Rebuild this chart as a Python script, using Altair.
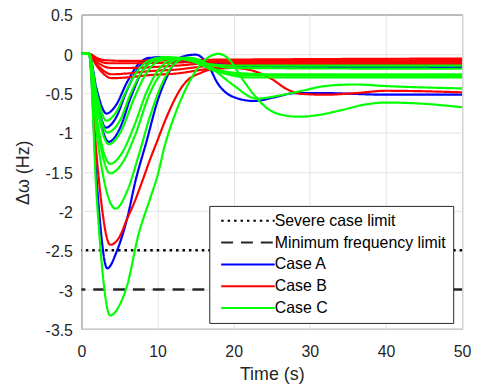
import altair as alt
import pandas as pd

# ---- Case A (blue) curves: (time s, delta omega Hz)
A1 = [(0, 0), (1, 0), (2, -0.45), (3.3, -0.76), (4.5, -0.66), (6, -0.36), (7.5, -0.13), (9, -0.05), (11, -0.06), (14, -0.1), (20, -0.12), (50, -0.12)]
A2 = [(0, 0), (1, 0), (2, -0.55), (3.2, -0.94), (4.5, -0.82), (6, -0.46), (7.5, -0.18), (9, -0.06), (10.5, -0.04), (13, -0.08), (20, -0.15), (50, -0.15)]
A3 = [(0, 0), (1, 0), (2, -0.62), (3.6, -1.12), (5, -0.96), (6.5, -0.55), (8, -0.22), (9.5, -0.08), (11, -0.05), (14, -0.1), (20, -0.16), (50, -0.17)]
A4 = [(0, 0), (1, 0), (2, -1.6), (3.4, -2.73), (4.7, -2.5), (6, -2.1), (7.1, -1.62), (8.6, -1.1), (10, -0.6), (11.2, -0.3), (12.3, -0.1), (13.5, -0.03), (15, -0.01), (16.5, -0.12), (18, -0.39), (20, -0.55), (22.7, -0.6), (25.5, -0.55), (28, -0.5), (32, -0.5), (40, -0.52), (50, -0.52)]

# ---- Case B (red) curves
B1 = [(0, 0), (1, 0), (2, -0.05), (3, -0.08), (6, -0.09), (12, -0.08), (25, -0.07), (50, -0.06)]
B2 = [(0, 0), (1, 0), (2, -0.07), (3.5, -0.12), (6, -0.12), (12.5, -0.11), (20, -0.09), (50, -0.08)]
B3 = [(0, 0), (1, 0), (2, -0.1), (4, -0.18), (6, -0.18), (9, -0.17), (12.5, -0.15), (18, -0.11), (25, -0.1), (50, -0.1)]
B4 = [(0, 0), (1, 0), (2, -0.13), (4, -0.26), (6, -0.25), (9, -0.22), (12.5, -0.2), (16, -0.16), (20, -0.13), (25, -0.12), (50, -0.12)]
B5 = [(0, 0), (1, 0), (2, -0.15), (4, -0.31), (6, -0.3), (9, -0.27), (12.5, -0.25), (16, -0.2), (20, -0.15), (25, -0.13), (50, -0.13)]
B6 = [(0, 0), (1, 0), (2, -1.3), (3.8, -2.43), (5, -2.33), (6, -2.1), (7, -1.88), (8, -1.62), (9, -1.35), (10, -1.1), (11, -0.85), (12, -0.63), (13, -0.45), (14, -0.33), (15.5, -0.25), (17, -0.2), (20, -0.18), (23, -0.23), (25, -0.32), (27, -0.45), (29, -0.51), (32, -0.52), (36, -0.5), (40, -0.47), (50, -0.49)]

# ---- Case C (green) curves
C1 = [(0, 0), (1, 0), (2, -0.5), (3.3, -0.85), (4.5, -0.75), (6, -0.45), (7.5, -0.2), (9, -0.08), (11, -0.04), (13, -0.06), (16, -0.12), (20, -0.15), (50, -0.15)]
C2 = [(0, 0), (1, 0), (2, -0.58), (3.4, -1.0), (5, -0.86), (6.5, -0.5), (8, -0.22), (10, -0.07), (12, -0.05), (15, -0.1), (20, -0.18), (50, -0.19)]
C3 = [(0, 0), (1, 0), (2, -0.65), (3.6, -1.15), (5, -1.02), (7, -0.55), (8.5, -0.25), (10.5, -0.08), (13, -0.05), (16, -0.15), (20, -0.24), (25, -0.26), (50, -0.26)]
C4 = [(0, 0), (1, 0), (2, -0.8), (3.8, -1.4), (5.2, -1.28), (7, -0.9), (8.5, -0.5), (10, -0.22), (12, -0.07), (14, -0.05), (17, -0.2), (21, -0.27), (50, -0.28)]
C5 = [(0, 0), (1, 0), (2, -0.85), (3.8, -1.52), (5.3, -1.4), (7, -1.05), (9, -0.5), (11, -0.18), (13, -0.06), (15, -0.07), (18, -0.22), (22, -0.3), (50, -0.3)]
C6 = [(0, 0), (1, 0), (2, -1.0), (4.5, -1.97), (6, -1.75), (7.5, -1.3), (9, -0.8), (10.5, -0.4), (12, -0.15), (14, -0.05), (16, -0.1), (18, -0.25), (20, -0.4), (23, -0.57), (26, -0.53), (29, -0.47), (32, -0.41), (36, -0.39), (40, -0.41), (50, -0.44)]
C7 = [(0, 0), (1, 0), (2, -1.8), (3.8, -3.33), (5, -3.2), (6, -2.95), (7.5, -2.3), (9, -1.85), (10, -1.55), (11, -1.15), (12, -0.85), (13, -0.6), (14.5, -0.3), (16, -0.1), (18, 0.0), (19.5, -0.08), (21, -0.3), (22.5, -0.5), (24.5, -0.7), (26.5, -0.78), (28.5, -0.8), (31, -0.78), (34, -0.72), (37, -0.65), (40, -0.62), (44, -0.63), (50, -0.68)]

# ---- limit lines
LIMIT_NAMES = ["Severe case limit", "Minimum frequency limit"]
LIMIT_VALUES = [-2.5, -3.0]

SERIES = ["Severe case limit", "Minimum frequency limit", "Case A", "Case B", "Case C"]
COLORS = ["#000000", "#262626", "#0000ff", "#ff0000", "#00ff00"]
DASHES = [[2.5, 4], [12, 8], [1, 0], [1, 0], [1, 0]]

X_TICKS = [0, 10, 20, 30, 40, 50]
Y_TICKS = [-3.5, -3, -2.5, -2, -1.5, -1, -0.5, 0, 0.5]

groups = [
    ("Case A", {"A1": A1, "A2": A2, "A3": A3, "A4": A4}),
    ("Case B", {"B1": B1, "B2": B2, "B3": B3, "B4": B4, "B5": B5, "B6": B6}),
    ("Case C", {"C1": C1, "C2": C2, "C3": C3, "C4": C4, "C5": C5, "C6": C6, "C7": C7}),
]
rows = []
for series, curves in groups:
    for name, pts in curves.items():
        for i, (t, v) in enumerate(pts):
            rows.append({"t": t, "v": v, "curve": name, "series": series, "i": i})
curves_df = pd.DataFrame(rows)
limits_df = pd.DataFrame({"series": LIMIT_NAMES, "v": LIMIT_VALUES})

FONT = "Liberation Sans"
color_scale = alt.Scale(domain=SERIES, range=COLORS)
dash_scale = alt.Scale(domain=SERIES, range=DASHES)
legend = alt.Legend(
    title=None, orient="none", legendX=129, legendY=193,
    symbolType="M-30,0L24,0", symbolSize=4, symbolStrokeWidth=2,
    symbolOffset=27, labelOffset=16,
    labelFont=FONT, labelFontSize=16, labelColor="#000000",
    rowPadding=6, padding=7, fillColor="#ffffff", strokeColor="#262626",
    labelLimit=400,
)

x_enc = alt.X("t:Q", scale=alt.Scale(domain=[0, 50], nice=False, zero=False),
              axis=alt.Axis(values=X_TICKS, title="Time (s)", grid=True, ticks=False,
                            domain=False, labelPadding=15, titlePadding=6,
                            labelFlush=False, labelExpr="'' + datum.value"))
y_axis = alt.Axis(values=Y_TICKS, title="Δω (Hz)", grid=True, ticks=False, domain=False,
                  labelPadding=9, labelOffset=1.5, labelFlush=False,
                  labelExpr="'' + datum.value",
                  titleX=-58, titleY=159, titleBaseline="middle")

rules = alt.Chart(limits_df).mark_rule(strokeWidth=2.5).encode(
    y=alt.Y("v:Q", scale=alt.Scale(domain=[-3.5, 0.5], nice=False), axis=y_axis),
    color=alt.Color("series:N", scale=color_scale, legend=legend),
    strokeDash=alt.StrokeDash("series:N", scale=dash_scale, legend=legend),
)

lines = alt.Chart(curves_df).mark_line(strokeWidth=2.2, interpolate="monotone", clip=True).encode(
    x=x_enc,
    y=alt.Y("v:Q", scale=alt.Scale(domain=[-3.5, 0.5], nice=False), axis=y_axis),
    color=alt.Color("series:N", scale=color_scale, legend=legend),
    strokeDash=alt.StrokeDash("series:N", scale=dash_scale, legend=legend),
    detail="curve:N",
    order="i:Q",
)

chart = alt.layer(rules, lines).properties(
    width=384, height=317,
    autosize=alt.AutoSizeParams(type="none"),
    padding={"left": 74, "top": 5, "right": 12, "bottom": 54},
).configure_view(
    stroke="#262626", strokeWidth=1,
).configure_axis(
    labelFont=FONT, labelFontSize=16, labelColor="#262626",
    titleFont=FONT, titleFontSize=18, titleColor="#262626", titleFontWeight="normal",
    gridColor="#e3e3e3", gridWidth=1,
)

chart.save("out.html", embed_options={"renderer": "svg", "actions": False})
